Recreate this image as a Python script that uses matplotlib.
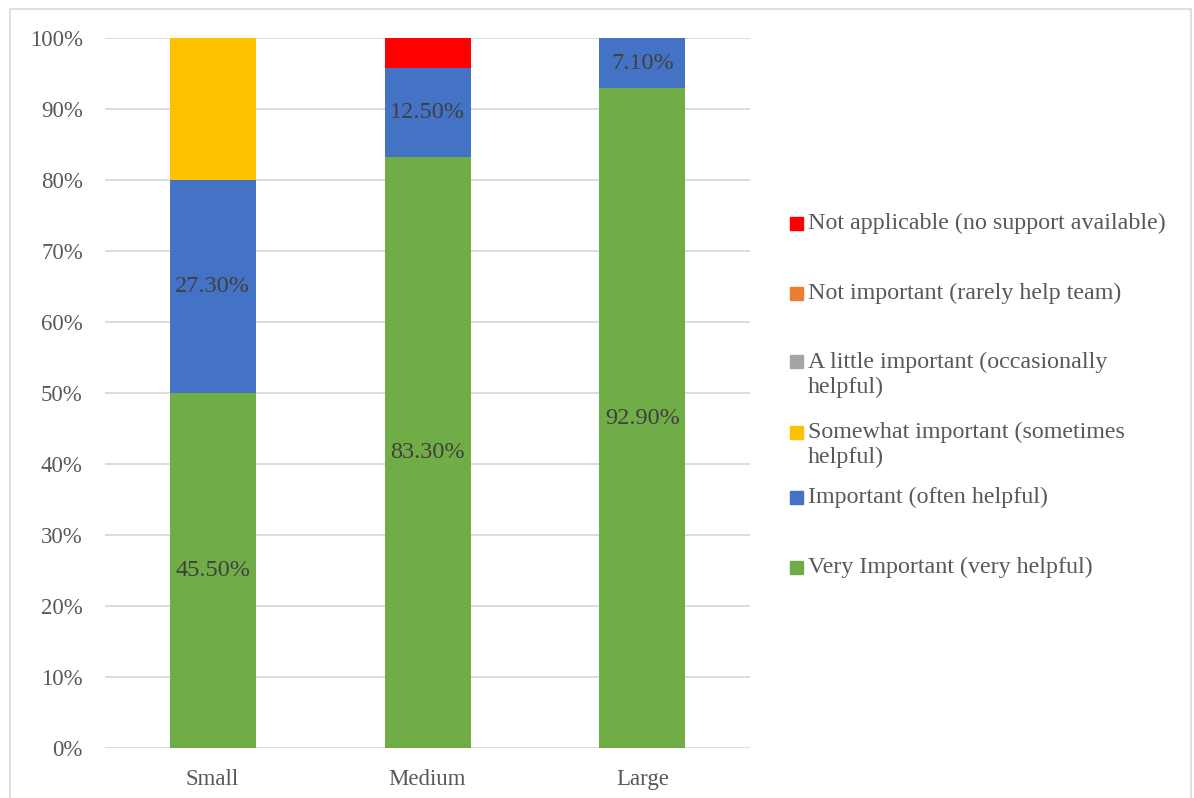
import matplotlib
matplotlib.use("Agg")
import matplotlib.pyplot as plt
import numpy as np
from matplotlib.patches import Rectangle

plt.rcParams["font.family"] = ["Liberation Serif", "DejaVu Serif"]

categories = ["Small", "Medium", "Large"]
series_names = [
    "Very Important (very helpful)",
    "Important (often helpful)",
    "Somewhat important (sometimes\nhelpful)",
    "A little important (occasionally\nhelpful)",
    "Not important (rarely help team)",
    "Not applicable (no support available)",
]
very_important = [45.5, 83.3, 92.9]
important = [27.3, 12.5, 7.1]
somewhat_important = [18.2, 0.0, 0.0]
little_important = [0.0, 0.0, 0.0]
not_important = [0.0, 0.0, 0.0]
not_applicable = [0.0, 4.2, 0.0]
colors = ["#70AD47", "#4472C4", "#FFC000", "#A5A5A5", "#ED7D31", "#FF0000"]
labelled = [True, True, False, False, False, False]

W, H = 1194, 798
fig = plt.figure(figsize=(W / 100, H / 100), dpi=100)
ax = fig.add_axes([105 / W, 1 - 748 / H, (750 - 105) / W, (748 - 38) / H])

data = np.array([very_important, important, somewhat_important,
                 little_important, not_important, not_applicable])
totals = data.sum(axis=0)
shares = data / totals * 100
x = np.arange(len(categories))
bottom = np.zeros(len(categories))
for i, (row, raw) in enumerate(zip(shares, data)):
    ax.bar(x, row, 0.4, bottom=bottom, color=colors[i], zorder=3)
    if labelled[i]:
        for xi, b, h, v in zip(x, bottom, row, raw):
            if v > 0:
                ax.text(xi, b + h / 2, f"{v:.2f}%", ha="center", va="center",
                        fontsize=17.5, color="#404040", zorder=4)
    bottom += row

ax.set_xlim(-0.5, 2.5)
ax.set_ylim(0, 100)
ax.set_yticks(np.arange(0, 101, 10))
ax.set_yticklabels([f"{t}%" for t in range(0, 101, 10)])
ax.set_xticks(x)
ax.set_xticklabels(categories)
ax.tick_params(axis="both", length=0, labelsize=16.5, colors="#595959")
ax.tick_params(axis="y", pad=16)
ax.tick_params(axis="x", pad=15)
ax.yaxis.grid(True, color="#d9d9d9", linewidth=1.3, zorder=0)
for s in ax.spines.values():
    s.set_visible(False)

# legend drawn in figure pixels, top entry first
legend_rows = [
    (5, [223]),
    (4, [293]),
    (3, [362, 387]),
    (2, [432, 457]),
    (1, [497]),
    (0, [567]),
]
for idx, ys in legend_rows:
    lines = series_names[idx].split("\n")
    fig.add_artist(Rectangle((790 / W, 1 - (ys[0] + 6.5) / H), 13 / W, 13 / H,
                             transform=fig.transFigure, color=colors[idx]))
    for line, yy in zip(lines, ys):
        fig.text(808 / W, 1 - yy / H, line, ha="left", va="center",
                 fontsize=17.3, color="#595959")

fig.add_artist(Rectangle((10 / W, -0.02), (1191 - 10) / W, 1.02 - 9 / H,
                         transform=fig.transFigure, fill=False,
                         edgecolor="#d9d9d9", linewidth=1.2))

fig.savefig("out.png", dpi=100, facecolor="white")
